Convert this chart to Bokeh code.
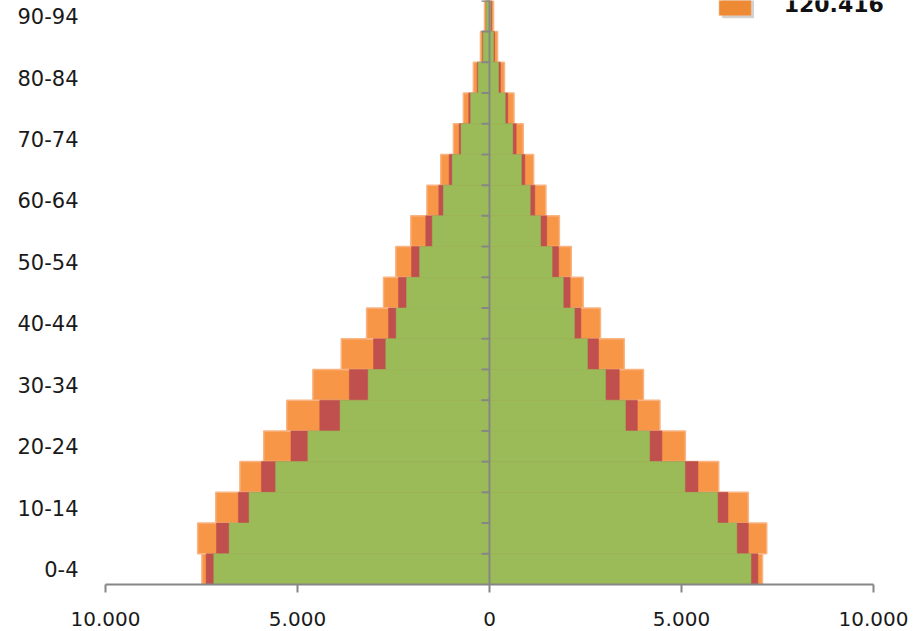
import numpy as np
from bokeh.plotting import figure
from bokeh.models import Range1d, FixedTicker, Span, Label, BoxAnnotation
from bokeh.embed import file_html
from bokeh.resources import INLINE
from bokeh.core.properties import value

# ---------------- data ----------------
age_groups = ["0-4", "5-9", "10-14", "15-19", "20-24", "25-29", "30-34", "35-39",
              "40-44", "45-49", "50-54", "55-59", "60-64", "65-69", "70-74",
              "75-79", "80-84", "85-89", "90-94"]

# left half of the pyramid (plotted as negative values)
left_orange = [7490, 7600, 7130, 6500, 5880, 5280, 4600, 3860, 3200, 2760,
               2440, 2050, 1630, 1270, 940, 680, 420, 235, 130]
left_red = [7380, 7110, 6540, 5940, 5170, 4420, 3650, 3020, 2630, 2370,
            2030, 1660, 1320, 1050, 790, 540, 320, 180, 90]
left_green = [7180, 6780, 6260, 5570, 4730, 3890, 3160, 2700, 2430, 2160,
              1820, 1490, 1200, 970, 740, 490, 295, 165, 85]

# right half of the pyramid
right_orange = [7110, 7220, 6740, 5970, 5100, 4440, 4010, 3510, 2890, 2440,
                2130, 1820, 1470, 1150, 880, 640, 390, 210, 105]
right_red = [6990, 6740, 6210, 5430, 4490, 3850, 3380, 2840, 2380, 2100,
             1800, 1490, 1180, 920, 695, 475, 285, 130, 55]
right_green = [6810, 6440, 5940, 5090, 4170, 3540, 3020, 2550, 2210, 1920,
               1630, 1330, 1060, 830, 605, 410, 235, 105, 30]

x_tick_values = [-10000, -5000, 0, 5000, 10000]
legend_text = "120.416"

# ---------------- figure ----------------
ORANGE = "#F79646"
RED = "#C0504D"
GREEN = "#9BBB59"
AXIS = "#868686"
FONT = "DejaVu Sans"

n = len(age_groups)
idx = np.arange(n)

p = figure(width=917, height=631, output_backend="svg", toolbar_location=None,
           x_range=Range1d(-10000, 11146), y_range=Range1d(-0.5, n - 0.5 + 0.01),
           min_border_left=105, min_border_right=0, min_border_top=0,
           min_border_bottom=47)
p.outline_line_color = None
p.grid.visible = False
p.background_fill_color = "white"
p.border_fill_color = "white"

neg = lambda a: -np.asarray(a, dtype=float)

# orange (back)
p.hbar(y=idx, left=neg(left_orange), right=0, height=1, fill_color=ORANGE,
       line_color="#F9B483", line_width=1.5)
p.hbar(y=idx, left=0, right=np.asarray(right_orange, float), height=1,
       fill_color=ORANGE, line_color="#F9B483", line_width=1.5)
# red (middle)
p.hbar(y=idx, left=neg(left_red), right=0, height=1, fill_color=RED,
       line_color=RED, line_width=0.5)
p.hbar(y=idx, left=0, right=np.asarray(right_red, float), height=1,
       fill_color=RED, line_color=RED, line_width=0.5)
# green (front)
p.hbar(y=idx, left=neg(left_green), right=0, height=1, fill_color=GREEN,
       line_color=GREEN, line_width=0.5)
p.hbar(y=idx, left=0, right=np.asarray(right_green, float), height=1,
       fill_color=GREEN, line_color=GREEN, line_width=0.5)

# central vertical axis with category boundary ticks
p.add_layout(Span(location=0, dimension="height", line_color=AXIS, line_width=2))
boundaries = idx + 0.5
p.ray(x=0, y=boundaries, length=8, length_units="screen", angle=np.pi,
      line_color=AXIS, line_width=2)

# left axis: category labels only
p.yaxis.ticker = FixedTicker(ticks=list(idx[::2]))
p.yaxis.major_label_overrides = {int(i): age_groups[i] for i in idx[::2]}
p.yaxis.axis_line_color = None
p.yaxis.major_tick_line_color = None
p.yaxis.minor_tick_line_color = None
p.yaxis.major_tick_out = 0
p.yaxis.major_tick_in = 0
p.yaxis.major_label_standoff = 27
p.yaxis.major_label_text_font = FONT
p.yaxis.major_label_text_font_size = "21px"
p.yaxis.major_label_text_color = "#1a1a1a"

# bottom axis
p.xaxis.bounds = (x_tick_values[0], x_tick_values[-1])
p.xaxis.ticker = FixedTicker(ticks=x_tick_values)
p.xaxis.major_label_overrides = {v: f"{abs(v):,}".replace(",", ".") for v in x_tick_values}
p.xaxis.axis_line_color = AXIS
p.xaxis.axis_line_width = 2
p.xaxis.major_tick_line_color = AXIS
p.xaxis.major_tick_line_width = 2
p.xaxis.major_tick_out = 8
p.xaxis.major_tick_in = 0
p.xaxis.minor_tick_line_color = None
p.xaxis.major_label_standoff = 19
p.xaxis.major_label_text_font = FONT
p.xaxis.major_label_text_font_size = "20px"
p.xaxis.major_label_text_color = "#1a1a1a"

# partially visible legend entry (top right)
p.add_layout(BoxAnnotation(left=6060, right=6890, bottom=17.93, top=19.5,
                           fill_color="#7f7f7f", fill_alpha=0.35, line_color=None))
p.add_layout(BoxAnnotation(left=5980, right=6812, bottom=18.02, top=19.5,
                           fill_color="#EF8A34", fill_alpha=1.0,
                           line_color="#F6A96A", line_width=1.5))
p.add_layout(Label(x=7660, y=18.38, text=legend_text, text_font=FONT,
                   text_font_style="bold", text_font_size="22px",
                   text_color="#111111", text_baseline="alphabetic"))

open("out.html", "w").write(file_html(p, INLINE))
